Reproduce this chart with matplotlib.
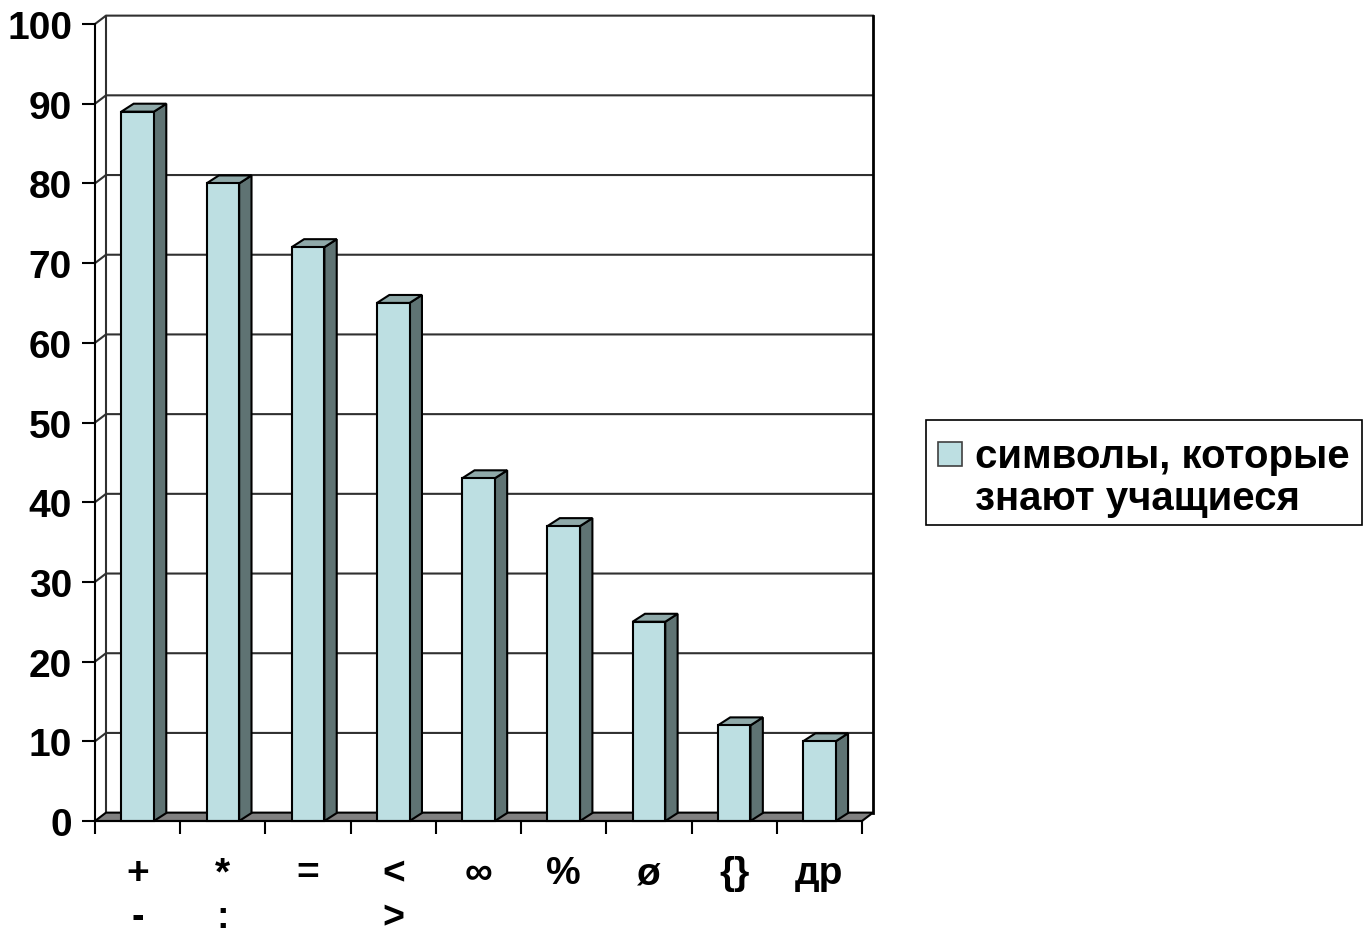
import numpy as np
import matplotlib
matplotlib.use("Agg")
import matplotlib.pyplot as plt
from matplotlib.patches import Polygon, Rectangle

plt.rcParams['font.family'] = ['Liberation Sans', 'DejaVu Sans']

# data
labels_top = ["+", "*", "=", "<", "∞", "%", "ø", "{}", "др"]
labels_bottom = ["-", ":", "", ">", "", "", "", "", ""]
values = [89, 80, 72, 65, 43, 37, 25, 12, 10]
y_ticks = list(range(0, 101, 10))
legend_lines = ["символы, которые", "знают учащиеся"]

front_col = "#bddfe2"
side_col = "#5f7373"
top_col = "#8fa9a9"
floor_col = "#808080"

fig = plt.figure(figsize=(13.64, 9.37), dpi=100)
ax = fig.add_axes([95 / 1364, 115 / 937, 767 / 1364, 797 / 937])
n = len(values)
ax.set_xlim(-0.5, n - 0.5)
ax.set_ylim(0, 100)

# depth of the walls and of the columns, in data units
wdx, wdy = 0.129, 1.05
bdx, bdy = 0.145, 1.0
w = 0.383

# back wall grid lines + side wall diagonals
x0, x1 = -0.5, n - 0.5
for v in y_ticks[1:]:
    ax.plot([x0, x0 + wdx, x1 + wdx], [v, v + wdy, v + wdy],
            color="#303030", lw=1.5, zorder=1, clip_on=False)
ax.plot([x0 + wdx, x0 + wdx], [wdy, 100 + wdy], color="#303030", lw=1.5,
        zorder=1, clip_on=False)
ax.plot([x1 + wdx, x1 + wdx], [wdy, 100 + wdy], color="black", lw=2,
        zorder=1, clip_on=False)

# floor
floor = Polygon([(x0, 0), (x1, 0), (x1 + wdx, wdy), (x0 + wdx, wdy)],
                closed=True, facecolor=floor_col, edgecolor="black", lw=1.5,
                zorder=2, clip_on=False)
ax.add_patch(floor)

# 3d columns
for i, v in enumerate(values):
    l, r = i - w / 2, i + w / 2
    side = Polygon([(r, 0), (r + bdx, bdy), (r + bdx, v + bdy), (r, v)],
                   closed=True, facecolor=side_col, edgecolor="black", lw=1.5,
                   zorder=3, clip_on=False)
    top = Polygon([(l, v), (r, v), (r + bdx, v + bdy), (l + bdx, v + bdy)],
                  closed=True, facecolor=top_col, edgecolor="black", lw=1.5,
                  zorder=3, clip_on=False)
    front = Rectangle((l, 0), w, v, facecolor=front_col, edgecolor="black",
                      lw=1.5, zorder=4, clip_on=False)
    ax.add_patch(side)
    ax.add_patch(top)
    ax.add_patch(front)

# axes: only the front value axis and the category axis
for s in ["top", "right"]:
    ax.spines[s].set_visible(False)
ax.spines["left"].set_linewidth(1.5)
ax.spines["bottom"].set_linewidth(1.5)
ax.spines["bottom"].set_zorder(5)

ax.set_yticks(y_ticks)
ax.set_yticklabels([str(t) for t in y_ticks], fontsize=28, fontweight="bold")
ax.tick_params(axis="y", direction="out", length=9.5, width=1.5, pad=7)
ax.set_xticks(np.arange(n + 1) - 0.5)
ax.set_xticklabels([])
ax.tick_params(axis="x", direction="out", length=9.5, width=1.5)

for i in range(n):
    ax.text(i, -7.8, labels_top[i], ha="center", va="baseline", fontsize=28,
            fontweight="bold", clip_on=False)
    if labels_bottom[i]:
        ax.text(i, -14.3, labels_bottom[i], ha="center", va="bottom",
                fontsize=27, fontweight="bold", clip_on=False)

# legend box
fig.patches.append(Rectangle((926 / 1364, 1 - 526 / 937), 436 / 1364, 105 / 937,
                             transform=fig.transFigure, facecolor="white",
                             edgecolor="black", lw=1.2))
fig.patches.append(Rectangle((938 / 1364, 1 - 467 / 937), 24 / 1364, 24 / 937,
                             transform=fig.transFigure, facecolor=front_col,
                             edgecolor="#404040", lw=1.2))
fig.text(975 / 1364, 1 - 468 / 937, legend_lines[0], fontsize=29,
         fontweight="bold", va="baseline")
fig.text(975 / 1364, 1 - 510 / 937, legend_lines[1], fontsize=29,
         fontweight="bold", va="baseline")

fig.savefig("out.png", dpi=100)
